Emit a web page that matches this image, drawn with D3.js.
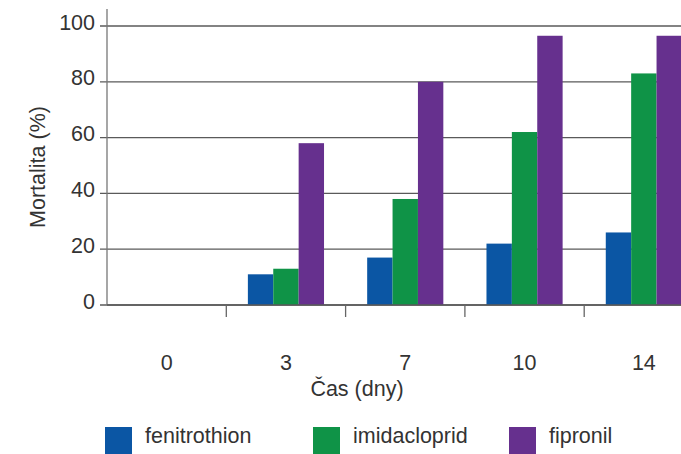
<!DOCTYPE html>
<html><head><meta charset="utf-8">
<script src="https://cdn.jsdelivr.net/npm/d3@7"></script>
<style>
html,body{margin:0;padding:0;background:#fff;}
svg{display:block;}
text{font-family:"Liberation Sans",Arial,sans-serif;fill:#333;}
</style></head>
<body>
<svg id="chart" width="681" height="454"></svg>
<script>
const categories = ["0","3","7","10","14"];
const seriesNames = ["fenitrothion","imidacloprid","fipronil"];
const fenitrothion = [0, 11, 17, 22, 26];
const imidacloprid = [0, 13, 38, 62, 83];
const fipronil = [0, 58, 80, 96.5, 96.5];
const yTicks = [0,20,40,60,80,100];
const colors = ["#0b56a4","#0f9347","#66308e"];
const seriesValues = [fenitrothion, imidacloprid, fipronil];

const svg = d3.select("#chart");
const x0 = d3.scaleBand().domain(categories).range([107, 703.5]).padding(0);
const x1 = d3.scaleBand().domain(seriesNames).range([0, x0.bandwidth()]).paddingInner(0).paddingOuter(0.85);
const y = d3.scaleLinear().domain([0,100]).range([305, 26]);
const color = d3.scaleOrdinal().domain(seriesNames).range(colors);
const fs = "21.5px";

// gridlines
svg.append("g").selectAll("line").data(yTicks).join("line")
  .attr("x1", 100).attr("x2", 681)
  .attr("y1", d=>y(d)).attr("y2", d=>y(d))
  .attr("stroke", "#5a5a5a").attr("stroke-width", 1.3);

// y axis line
svg.append("line").attr("x1",107).attr("x2",107).attr("y1",9).attr("y2",y(0))
  .attr("stroke","#777").attr("stroke-width",1.3);

// y tick labels
svg.append("g").selectAll("text").data(yTicks).join("text")
  .attr("x", 95).attr("y", d=>y(d)-4).attr("dy","0.35em")
  .attr("text-anchor","end").style("font-size",fs).text(d=>d);

// bars
const flat = [];
categories.forEach((c,i)=>seriesNames.forEach((s,j)=>flat.push({c, s, v: seriesValues[j][i]})));
svg.append("g").selectAll("rect").data(flat.filter(d=>d.v>0)).join("rect")
  .attr("x", d=>x0(d.c)+x1(d.s)).attr("width", x1.bandwidth())
  .attr("y", d=>y(d.v)).attr("height", d=>y(0)-y(d.v))
  .attr("fill", d=>color(d.s));

// x axis baseline and ticks
svg.append("line").attr("x1",107).attr("x2",681).attr("y1",y(0)).attr("y2",y(0))
  .attr("stroke","#5a5a5a").attr("stroke-width",1.3);
svg.append("g").selectAll("line").data(categories.slice(1)).join("line")
  .attr("x1", d=>x0(d)).attr("x2", d=>x0(d))
  .attr("y1", y(0)).attr("y2", y(0)+12)
  .attr("stroke","#666").attr("stroke-width",1.3);

// x labels
svg.append("g").selectAll("text").data(categories).join("text")
  .attr("x", d=>x0(d)+x0.bandwidth()/2).attr("y", 362).attr("dy","0.35em")
  .attr("text-anchor","middle").style("font-size",fs).text(d=>d);

// axis titles
svg.append("text").attr("x",357).attr("y",388).attr("dy","0.35em")
  .attr("text-anchor","middle").style("font-size",fs).text("Čas (dny)");
svg.append("text").attr("transform","translate(37,167) rotate(-90)").attr("dy","0.35em")
  .attr("text-anchor","middle").style("font-size",fs).text("Mortalita (%)");

// legend
const legX = [105, 313, 509];
const leg = svg.append("g").selectAll("g").data(seriesNames).join("g")
  .attr("transform",(d,i)=>`translate(${legX[i]},427)`);
leg.append("rect").attr("width",27).attr("height",27).attr("fill",d=>color(d));
leg.append("text").attr("x",40).attr("y",8).attr("dy","0.35em")
  .style("font-size",fs).text(d=>d);
</script>
</body></html>
